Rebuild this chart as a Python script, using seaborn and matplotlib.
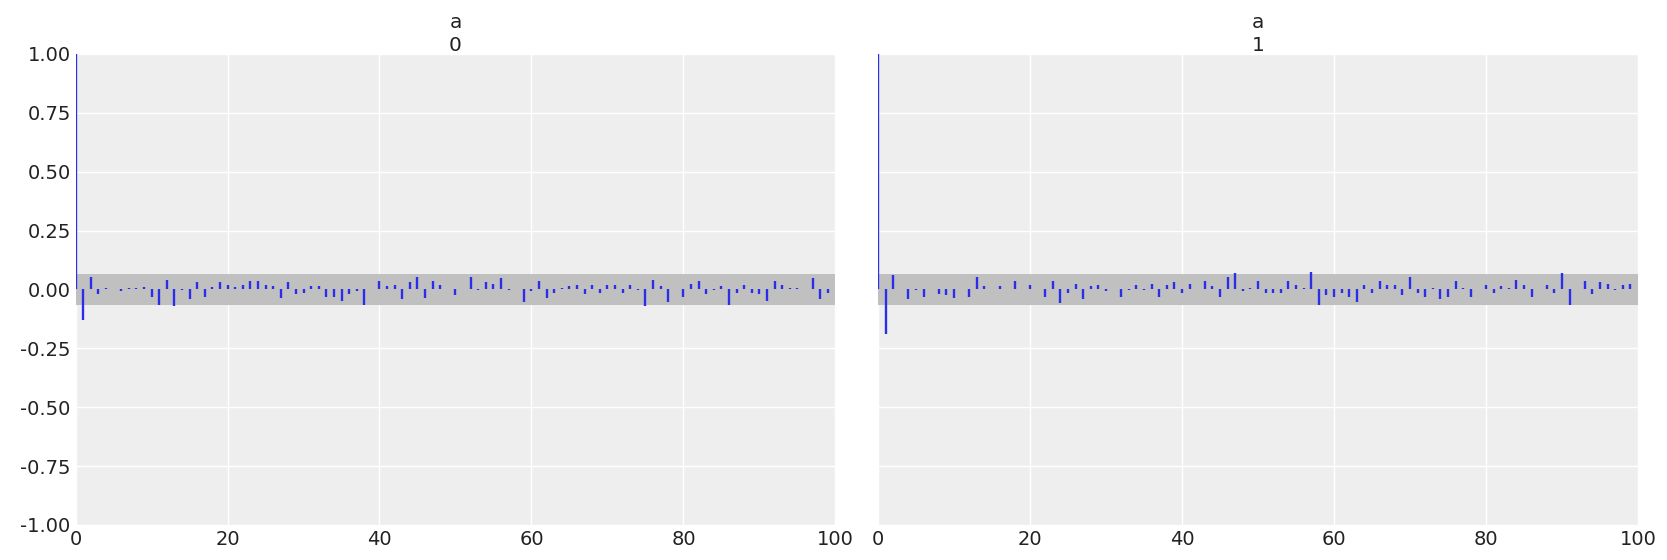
import matplotlib
matplotlib.use("Agg")
import matplotlib.pyplot as plt
import seaborn as sns
import numpy as np

# autocorrelation of variable "a", one array per chain (lags 0..99)
chains = ["0", "1"]
acf_chain0 = [
    1.0, -0.13, 0.055, -0.021, 0.007, 0.0, -0.007, 0.007, 0.007, 0.01,
    -0.033, -0.064, 0.042, -0.071, -0.003, -0.042, 0.031, -0.033, 0.01, 0.031,
    0.018, 0.01, 0.021, 0.034, 0.034, 0.018, 0.014, -0.037, 0.031, -0.018,
    -0.014, 0.013, 0.013, -0.033, -0.033, -0.05, -0.02, -0.008, -0.064, 0.0,
    0.038, 0.013, 0.017, -0.042, 0.03, 0.055, -0.038, 0.038, 0.017, 0.004,
    -0.025, 0.0, 0.051, -0.004, 0.03, 0.025, 0.047, -0.004, 0.0, -0.051,
    -0.008, 0.038, -0.038, -0.017, 0.008, 0.013, 0.021, -0.021, 0.017, -0.013,
    0.017, 0.017, -0.013, 0.017, -0.004, -0.071, 0.042, 0.013, -0.051, 0.0,
    -0.03, 0.025, 0.038, -0.021, -0.004, 0.013, -0.064, -0.017, 0.021, -0.017,
    -0.021, -0.047, 0.038, 0.017, 0.008, 0.008, 0.004, 0.047, -0.042, -0.013,
]
acf_chain1 = [
    1.0, -0.19, 0.061, 0.0, -0.042, -0.004, -0.033, 0.0, -0.021, -0.025,
    -0.038, 0.0, -0.03, 0.051, 0.013, 0.004, 0.013, 0.0, 0.034, 0.0,
    0.021, 0.004, -0.03, 0.038, -0.059, -0.017, 0.025, -0.042, 0.013, 0.021,
    -0.008, 0.0, -0.03, -0.004, 0.017, -0.004, 0.025, -0.03, 0.021, 0.03,
    -0.017, 0.025, 0.004, 0.034, 0.013, -0.03, 0.051, 0.068, -0.008, 0.008,
    0.034, -0.017, -0.013, -0.017, 0.034, 0.021, 0.008, 0.076, -0.064, -0.025,
    -0.03, -0.017, -0.034, -0.051, 0.017, -0.013, 0.038, 0.017, 0.021, -0.025,
    0.055, -0.017, -0.03, 0.008, -0.042, -0.034, 0.034, 0.008, -0.03, 0.0,
    0.021, -0.013, 0.013, 0.008, 0.042, 0.021, -0.03, 0.004, 0.021, -0.013,
    0.072, -0.064, 0.004, 0.034, -0.021, 0.03, 0.025, -0.004, 0.021, 0.025,
]
max_lag = 100
band = 0.0667  # confidence band half-width

# 스타일 (arviz-darkgrid 비슷하게)
sns.set_theme(style="darkgrid", rc={
    "axes.facecolor": "#eeeeee",
    "grid.color": "white",
    "grid.linewidth": 1.0,
    "xtick.labelsize": 14,
    "ytick.labelsize": 14,
    "axes.titlesize": 14.5,
    "text.color": "#222222",
    "xtick.color": "#222222",
    "ytick.color": "#222222",
})
plt.rcParams["font.family"] = ["DejaVu Sans"]

fig, axes = plt.subplots(1, 2, figsize=(16.67, 5.6), dpi=100, sharey=True)
fig.subplots_adjust(left=0.0453, right=0.9826, top=0.9036, bottom=0.0625, wspace=0.056)

for ax, chain, acf in zip(axes, chains, [acf_chain0, acf_chain1]):
    lags = np.arange(len(acf))
    ax.fill_between([0, max_lag], -band, band, color="#c0c0c0", zorder=1, linewidth=0)
    ax.vlines(lags, 0, acf, color="#2a2eec", linewidth=1.7, zorder=2)
    ax.set_xlim(0, max_lag)
    ax.set_ylim(-1, 1)
    ax.set_xticks(np.arange(0, 101, 20))
    ax.set_yticks(np.arange(-1, 1.01, 0.25))
    ax.set_title("a\n" + chain, pad=2, linespacing=1.3)
    for s in ax.spines.values():
        s.set_visible(False)
    ax.tick_params(length=0)

axes[1].tick_params(labelleft=False)
axes[0].yaxis.set_major_formatter(matplotlib.ticker.FormatStrFormatter("%.2f"))

plt.savefig("out.png", dpi=100)
